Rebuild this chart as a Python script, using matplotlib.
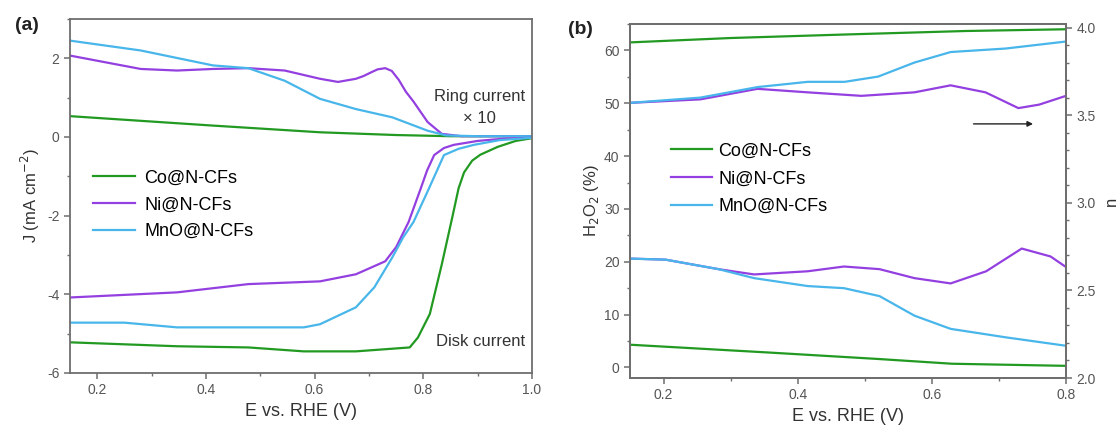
import matplotlib
matplotlib.use("Agg")
import matplotlib.pyplot as plt
from matplotlib.ticker import MultipleLocator

plt.rcParams['font.family'] = ['Liberation Sans', 'DejaVu Sans']
plt.rcParams['axes.unicode_minus'] = False

labels = ["Co@N-CFs", "Ni@N-CFs", "MnO@N-CFs"]
colors = ["#229a22", "#9440e0", "#48b6ea"]

# ---- (a) RRDE: ring current (x10) and disk current ----
co_ring_E = [0.15, 0.413, 0.61, 0.75, 0.85, 1.0]
co_ring_J = [0.53, 0.29, 0.12, 0.05, 0.02, 0.02]
ni_ring_E = [0.15, 0.215, 0.28, 0.347, 0.413, 0.478, 0.545, 0.61, 0.643, 0.676,
             0.69, 0.705, 0.716, 0.73, 0.742, 0.755, 0.768, 0.782, 0.808, 0.834,
             0.87, 1.0]
ni_ring_J = [2.07, 1.9, 1.73, 1.69, 1.73, 1.75, 1.69, 1.48, 1.4, 1.48,
             1.55, 1.65, 1.72, 1.75, 1.68, 1.45, 1.15, 0.9, 0.38, 0.08,
             0.02, 0.02]
mno_ring_E = [0.15, 0.28, 0.413, 0.478, 0.545, 0.61, 0.676, 0.743, 0.808, 0.842, 0.9, 1.0]
mno_ring_J = [2.45, 2.2, 1.82, 1.75, 1.43, 0.97, 0.71, 0.5, 0.16, 0.04, 0.02, 0.02]

co_disk_E = [0.15, 0.347, 0.478, 0.58, 0.676, 0.775, 0.79, 0.812, 0.834, 0.854,
             0.865, 0.875, 0.89, 0.905, 0.937, 0.97, 1.0]
co_disk_J = [-5.22, -5.32, -5.35, -5.45, -5.45, -5.35, -5.1, -4.5, -3.24, -2.0,
             -1.3, -0.9, -0.6, -0.45, -0.25, -0.1, -0.03]
ni_disk_E = [0.15, 0.347, 0.478, 0.61, 0.676, 0.73, 0.75, 0.773, 0.795, 0.807,
             0.82, 0.838, 0.856, 0.9, 0.95, 1.0]
ni_disk_J = [-4.08, -3.95, -3.74, -3.67, -3.49, -3.16, -2.8, -2.16, -1.32, -0.85,
             -0.46, -0.28, -0.2, -0.1, -0.04, -0.02]
mno_disk_E = [0.15, 0.25, 0.347, 0.478, 0.58, 0.61, 0.676, 0.71, 0.743, 0.763,
              0.782, 0.81, 0.838, 0.865, 0.893, 0.94, 1.0]
mno_disk_J = [-4.72, -4.72, -4.84, -4.84, -4.84, -4.76, -4.33, -3.82, -3.06, -2.55,
              -2.16, -1.32, -0.46, -0.3, -0.2, -0.08, -0.02]

# ---- (b) H2O2 yield (left) and electron transfer number n (right) ----
co_n_E = [0.15, 0.3, 0.47, 0.65, 0.8]
co_n = [3.915, 3.94, 3.96, 3.98, 3.99]
ni_n_E = [0.15, 0.255, 0.34, 0.415, 0.495, 0.574, 0.628, 0.68, 0.729, 0.76, 0.8]
ni_n = [3.57, 3.59, 3.65, 3.63, 3.61, 3.63, 3.67, 3.63, 3.54, 3.56, 3.61]
mno_n_E = [0.15, 0.255, 0.34, 0.415, 0.47, 0.52, 0.574, 0.628, 0.71, 0.8]
mno_n = [3.57, 3.6, 3.66, 3.69, 3.69, 3.72, 3.80, 3.86, 3.88, 3.92]

co_h_E = [0.15, 0.36, 0.52, 0.63, 0.8]
co_h = [4.3, 2.8, 1.6, 0.7, 0.3]
ni_h_E = [0.15, 0.203, 0.282, 0.335, 0.415, 0.469, 0.522, 0.574, 0.628, 0.681,
          0.734, 0.777, 0.8]
ni_h = [20.6, 20.4, 18.6, 17.6, 18.2, 19.1, 18.6, 16.9, 15.9, 18.2, 22.5, 21, 19]
mno_h_E = [0.15, 0.203, 0.282, 0.335, 0.415, 0.469, 0.522, 0.574, 0.628, 0.71, 0.8]
mno_h = [20.6, 20.4, 18.6, 16.9, 15.4, 15, 13.5, 9.8, 7.3, 5.7, 4.1]

spine_col = "#6e6e6e"
tick_col = "#555555"
text_col = "#333333"
lw = 1.6


def style_axes(ax):
    for s in ax.spines.values():
        s.set_color(spine_col)
        s.set_linewidth(1.3)
    ax.tick_params(which="both", direction="out", colors=spine_col, labelcolor=tick_col,
                   labelsize=10)
    ax.tick_params(which="major", length=4, width=1.1)
    ax.tick_params(which="minor", length=2.5, width=1.0)


fig = plt.figure(figsize=(11.2, 4.3), dpi=100)

# (a)
ax1 = fig.add_axes([70 / 1120, 1 - 373 / 430, 462 / 1120, 354 / 430])
ax1.plot(co_ring_E, co_ring_J, color=colors[0], lw=lw)
ax1.plot(ni_ring_E, ni_ring_J, color=colors[1], lw=lw)
ax1.plot(mno_ring_E, mno_ring_J, color=colors[2], lw=lw)
h1, = ax1.plot(co_disk_E, co_disk_J, color=colors[0], lw=lw)
h2, = ax1.plot(ni_disk_E, ni_disk_J, color=colors[1], lw=lw)
h3, = ax1.plot(mno_disk_E, mno_disk_J, color=colors[2], lw=lw)
ax1.set_xlim(0.15, 1.0)
ax1.set_ylim(-6, 3)
ax1.xaxis.set_major_locator(MultipleLocator(0.2))
ax1.xaxis.set_minor_locator(MultipleLocator(0.1))
ax1.yaxis.set_major_locator(MultipleLocator(2))
ax1.yaxis.set_minor_locator(MultipleLocator(1))
style_axes(ax1)
ax1.set_xlabel("E vs. RHE (V)", fontsize=13, color=text_col, labelpad=4)
ax1.set_ylabel("J (mA cm$^{-2}$)", fontsize=12, color=text_col, labelpad=4)
ax1.legend([h1, h2, h3], labels, loc="upper left", bbox_to_anchor=(0.049, 0.575),
           frameon=False, fontsize=13, handlelength=2.35, handletextpad=0.5,
           labelspacing=0.55, borderpad=0, borderaxespad=0)
ax1.text(0.985, 0.781, "Ring current", transform=ax1.transAxes, ha="right",
         va="center", fontsize=12, color=text_col)
ax1.text(0.887, 0.718, "\u00d7 10", transform=ax1.transAxes, ha="center",
         va="center", fontsize=12, color=text_col)
ax1.text(0.985, 0.088, "Disk current", transform=ax1.transAxes, ha="right",
         va="center", fontsize=12, color=text_col)
fig.text(27 / 1120, 1 - 25 / 430, "(a)", fontsize=14, fontweight="bold",
         ha="center", va="center", color="#222222")

# (b)
ax2 = fig.add_axes([630 / 1120, 1 - 378 / 430, 436 / 1120, 354 / 430])
ax3 = ax2.twinx()
g1, = ax2.plot(co_h_E, co_h, color=colors[0], lw=lw)
g2, = ax2.plot(ni_h_E, ni_h, color=colors[1], lw=lw)
g3, = ax2.plot(mno_h_E, mno_h, color=colors[2], lw=lw)
ax3.plot(co_n_E, co_n, color=colors[0], lw=lw)
ax3.plot(ni_n_E, ni_n, color=colors[1], lw=lw)
ax3.plot(mno_n_E, mno_n, color=colors[2], lw=lw)
ax2.set_xlim(0.15, 0.8)
ax2.set_ylim(-2, 65)
ax3.set_ylim(2.0, 4.02)
ax2.xaxis.set_major_locator(MultipleLocator(0.2))
ax2.xaxis.set_minor_locator(MultipleLocator(0.1))
ax2.yaxis.set_major_locator(MultipleLocator(10))
ax2.yaxis.set_minor_locator(MultipleLocator(5))
ax3.yaxis.set_major_locator(MultipleLocator(0.5))
ax3.yaxis.set_minor_locator(MultipleLocator(0.1))
style_axes(ax2)
style_axes(ax3)
ax2.set_xlabel("E vs. RHE (V)", fontsize=13, color=text_col, labelpad=4)
ax2.set_ylabel("H$_2$O$_2$ (%)", fontsize=12, color=text_col, labelpad=2)
ax3.set_ylabel("n", fontsize=12, color=text_col, labelpad=6)
ax2.legend([g1, g2, g3], labels, loc="upper left", bbox_to_anchor=(0.093, 0.665),
           frameon=False, fontsize=13, handlelength=2.3, handletextpad=0.35,
           labelspacing=0.6, borderpad=0, borderaxespad=0)
ax3.annotate("", xy=(0.755, 3.45), xytext=(0.658, 3.45),
             arrowprops=dict(arrowstyle="-|>", color="#222222", lw=1.0,
                             mutation_scale=8))
fig.text(580 / 1120, 1 - 30 / 430, "(b)", fontsize=14, fontweight="bold",
         ha="center", va="center", color="#222222")

fig.savefig("out.png", dpi=100)
